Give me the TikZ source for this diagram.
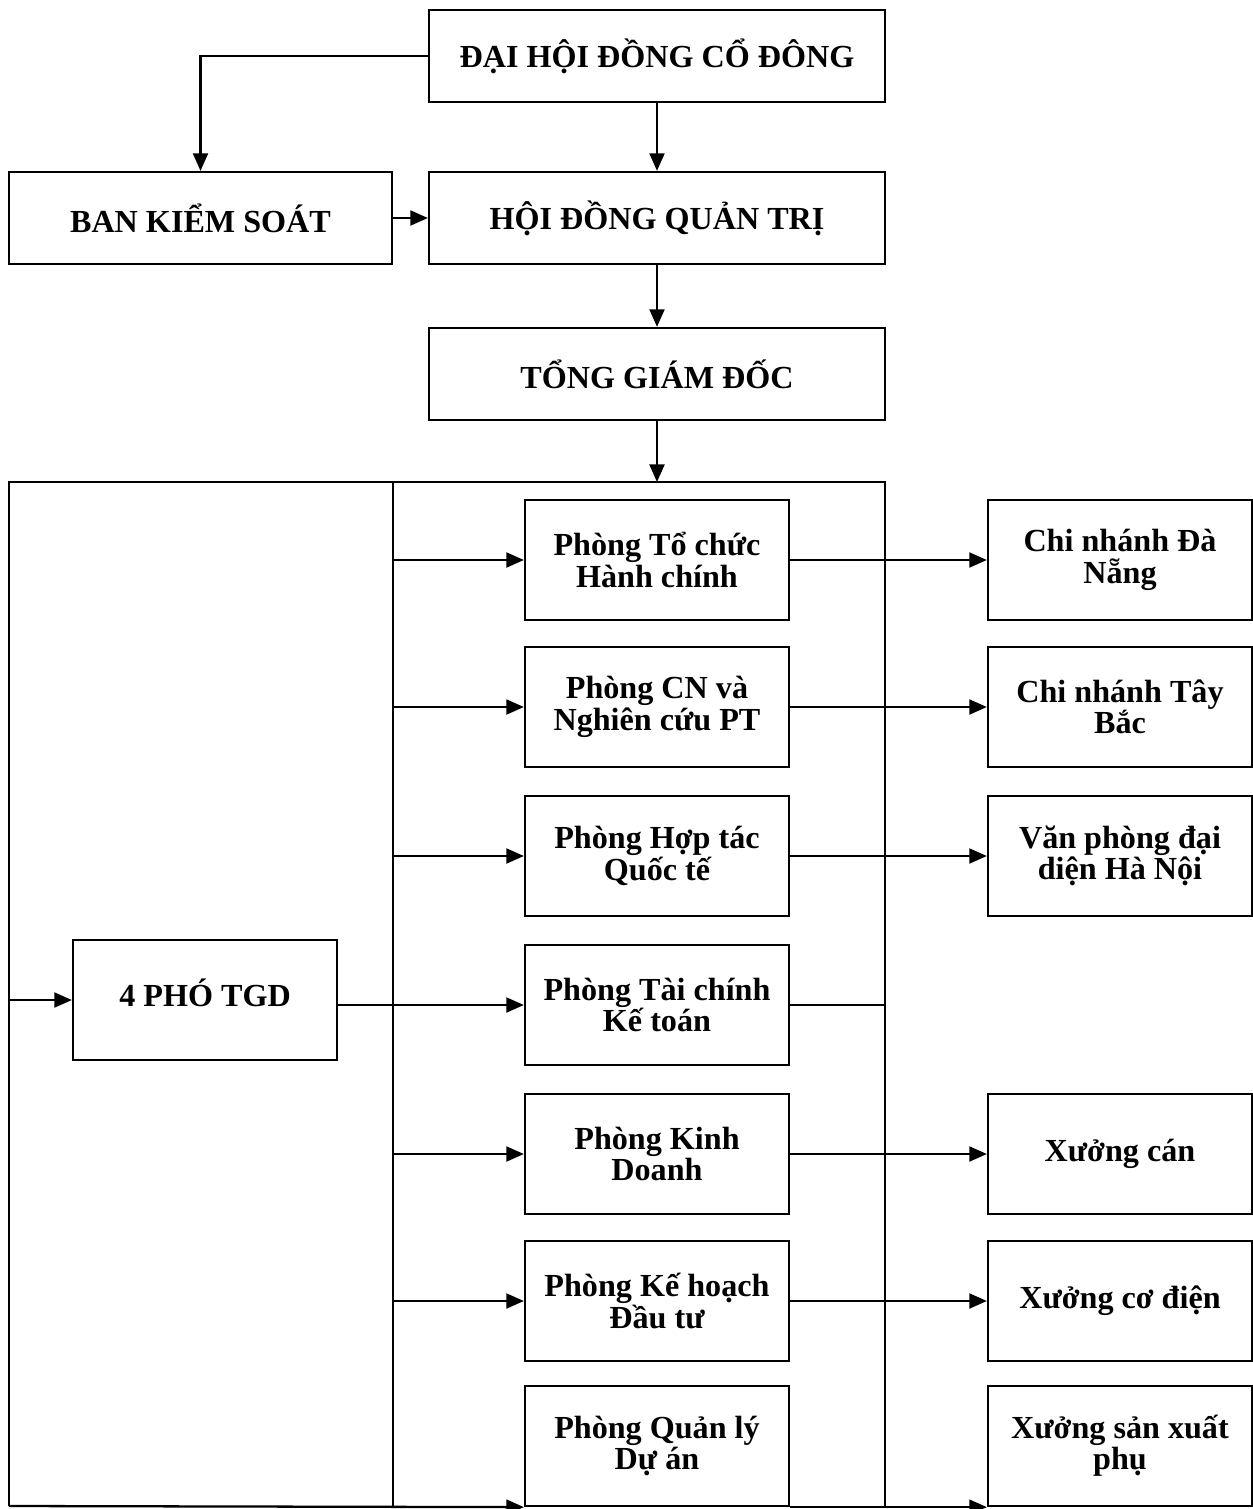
\documentclass[tikz,border=0pt]{standalone}
\usepackage{fontspec}
\setmainfont{Liberation Serif}
\usetikzlibrary{arrows.meta}

\begin{document}
\begin{tikzpicture}[x=0.02cm, y=-0.02cm,
    box/.style={draw=black, line width=1.3pt, align=center, inner sep=0pt,
      font=\fontsize{18.3}{17.8}\selectfont\bfseries},
    topbox/.style={box, minimum width=9.12cm, minimum height=1.84cm},
    dept/.style={box, minimum width=5.28cm, minimum height=2.4cm},
    link/.style={line width=1.3pt},
    arr/.style={link, -{Triangle[length=10pt,width=8.5pt]}}]
  % 1 unit = 1 px of the 1253 x 1509 sheet, y grows downwards
  \useasboundingbox (0,0) rectangle (1253,1509);
  \def\colL{205}  % 4 PHO TGD
  \def\colM{657}  % phong ban
  \def\colR{1120} % chi nhanh, xuong
  % top of the chart
  \node[topbox] (dhdcd) at (\colM,56) {ĐẠI HỘI ĐỒNG CỔ ĐÔNG};
  \node[topbox] (hdqt) at (\colM,218) {HỘI ĐỒNG QUẢN TRỊ};
  \node[topbox, minimum width=7.66cm] (bks) at (200.5,218) {BAN KIỂM SOÁT};
  \node[topbox] (tgd) at (\colM,374) {TỔNG GIÁM ĐỐC};
  % frame
  \coordinate (ftl) at (9,482);
  \coordinate (ftr) at (885,482);
  \coordinate (fbl) at (9,1506);
  \coordinate (fbr) at (885,1506);
  \coordinate (itop) at (393,482);
  \coordinate (ibot) at (393,1506);
  \draw[link] (fbl) -- (ftl) -- (ftr) -- (fbr);
  \draw[link] (itop) -- (ibot);
  % phong ban
  \node[dept] (pho) at (\colL,1000) {\raisebox{0.45em}{4 PHÓ TGD}};
  \node[dept] (ptc) at (\colM,560) {Phòng Tổ chức\\Hành chính};
  \node[dept] (pcn) at (\colM,707) {Phòng CN và\\Nghiên cứu PT};
  \node[dept] (phtqt) at (\colM,856) {Phòng Hợp tác\\Quốc tế};
  \node[dept] (ptckt) at (\colM,1005) {Phòng Tài chính\\Kế toán};
  \node[dept] (pkd) at (\colM,1154) {Phòng Kinh\\Doanh};
  \node[dept] (pkhdt) at (\colM,1301) {Phòng Kế hoạch\\Đầu tư};
  \node[dept] (pqlda) at (\colM,1446) {Phòng Quản lý\\Dự án};
  % don vi truc thuoc
  \node[dept] (cndn) at (\colR,560) {Chi nhánh Đà\\Nẵng};
  \node[dept] (cntb) at (\colR,707) {Chi nhánh Tây\\Bắc};
  \node[dept] (vphn) at (\colR,856) {Văn phòng đại\\diện Hà Nội};
  \node[dept] (xcan) at (\colR,1154) {Xưởng cán};
  \node[dept] (xcd) at (\colR,1301) {Xưởng cơ điện};
  \node[dept] (xsxp) at (\colR,1446) {Xưởng sản xuất\\phụ};
  % connectors
  \draw[arr] (dhdcd.west) -| (bks.north);
  \draw[arr] (dhdcd) -- (hdqt);
  \draw[arr] (bks) -- (hdqt);
  \draw[arr] (hdqt) -- (tgd);
  \draw[arr] (tgd.south) -- (tgd.south |- ftr);
  \draw[arr] (ftl |- pho.west) -- (pho.west);
  \draw[arr] (pho.east |- ptckt.west) -- (ptckt.west);
  \draw[link] (ptckt.east) -- (ptckt.east -| ftr);
  \foreach \p in {ptc,pcn,phtqt,pkd,pkhdt}
    \draw[arr] (itop |- \p.west) -- (\p.west);
  \draw[arr] (ptc) -- (cndn);
  \draw[arr] (pcn) -- (cntb);
  \draw[arr] (phtqt) -- (vphn);
  \draw[arr] (pkd) -- (xcan);
  \draw[arr] (pkhdt) -- (xcd);
  \draw[arr] (fbl) -- (pqlda.south west);
  \draw[arr] (pqlda.south east) -- (xsxp.south west);
\end{tikzpicture}
\end{document}
